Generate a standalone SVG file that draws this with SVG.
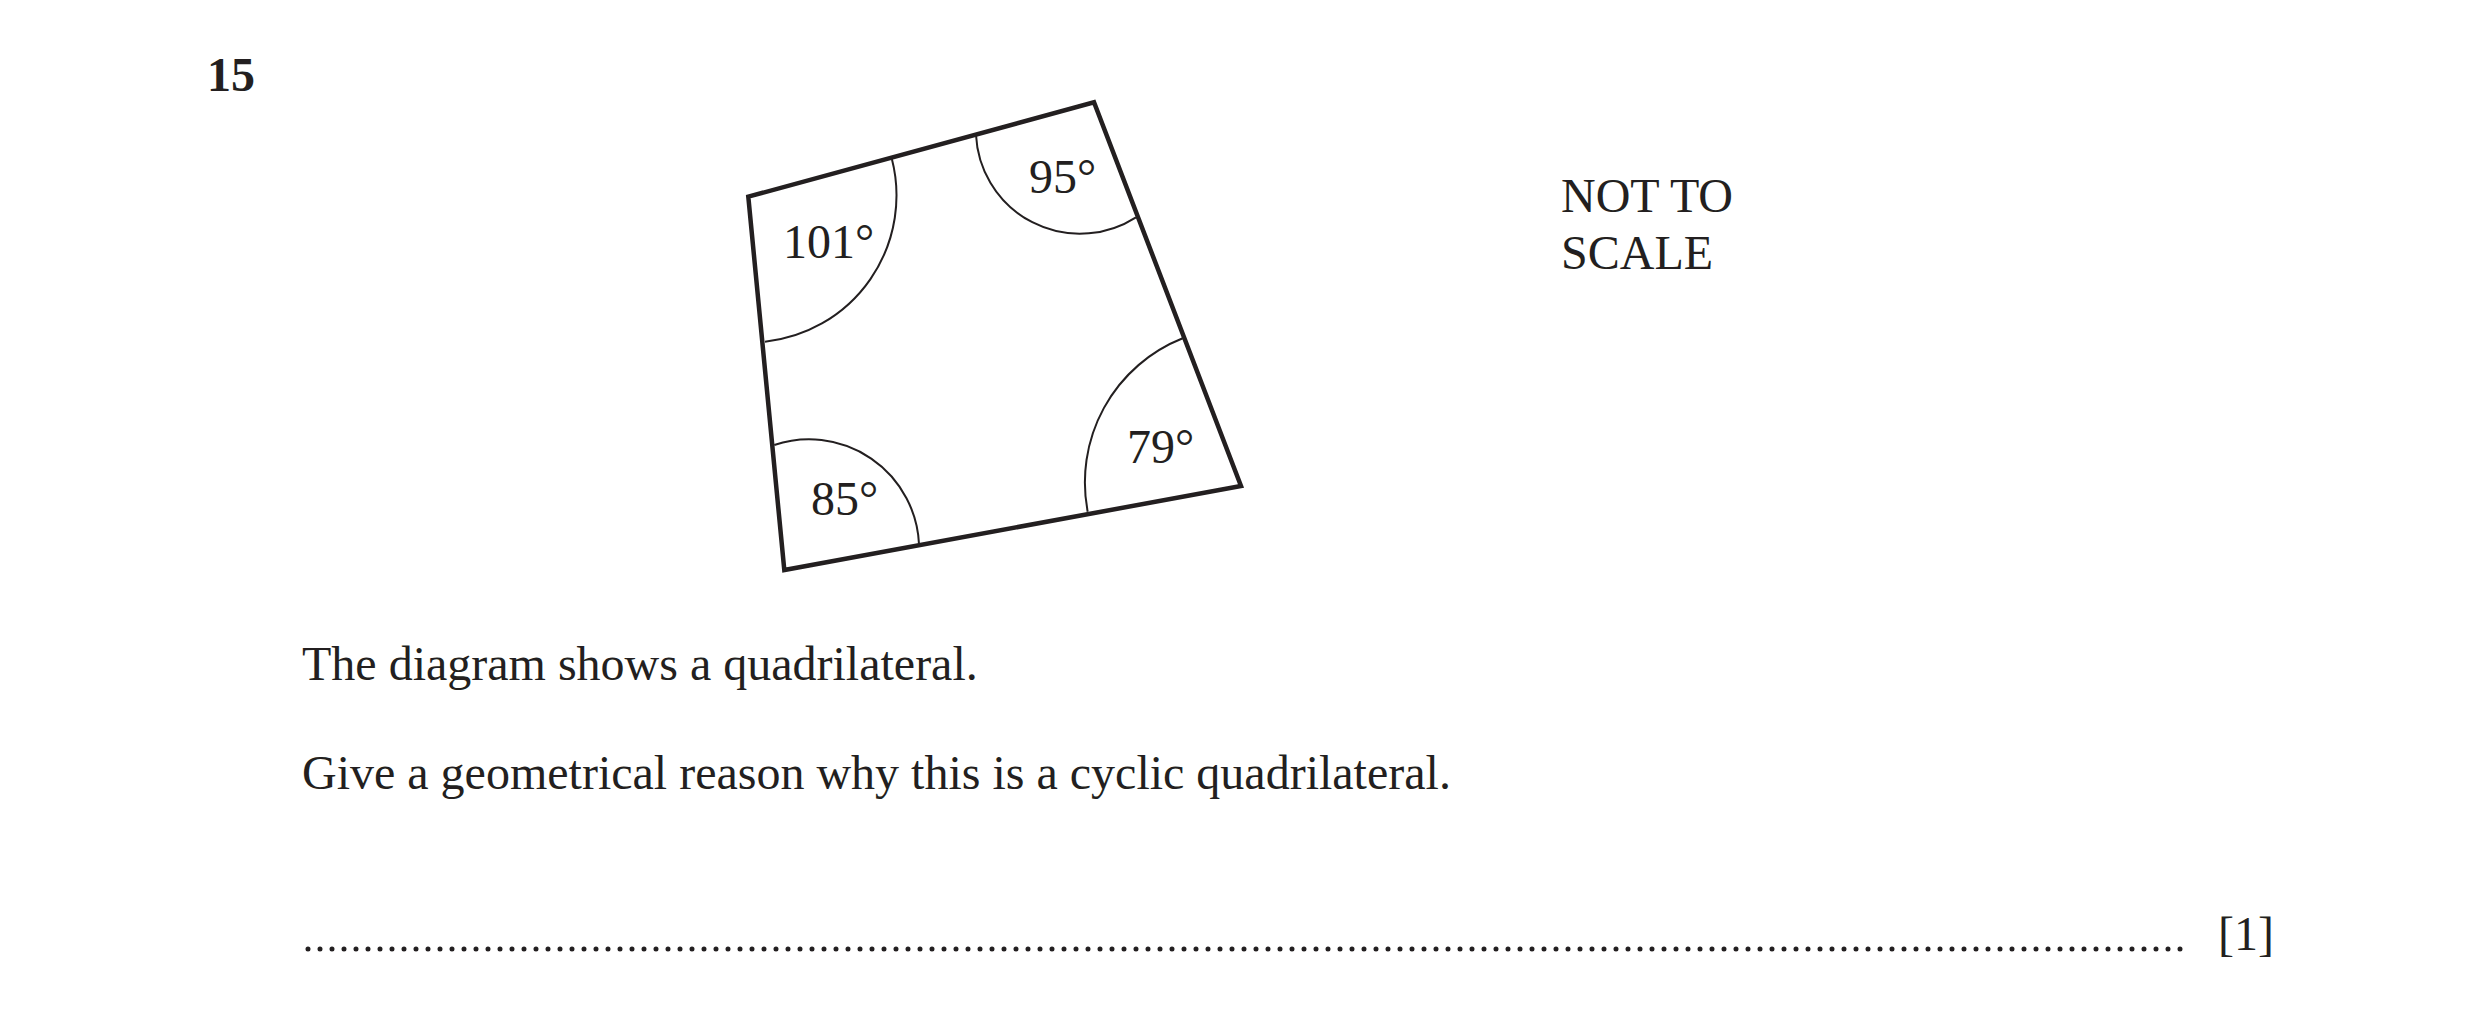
<svg xmlns="http://www.w3.org/2000/svg" width="2481" height="1016" viewBox="0 0 2481 1016">
<style>
text { font-family: "Liberation Serif", "Times New Roman", serif; font-size: 48px; fill: #231f20; }
.bold { font-weight: bold; }
.edge { fill: none; stroke: #231f20; stroke-width: 4.5; stroke-linejoin: miter; }
.arc { fill: none; stroke: #231f20; stroke-width: 2; }
</style>
<rect width="2481" height="1016" fill="#ffffff"/>
<text id="qnum" class="bold" x="207" y="91">15</text>
<g id="quadrilateral">
<polygon class="edge" points="748.3,196.7 1094,102.3 1241,486 784.3,570"/>
</g>
<g id="angles">
<g id="angle-101">
<path class="arc" d="M891.7,158.3 A147,147 0 0 1 765,341.7"/>
<text x="783" y="258">101°</text>
</g>
<g id="angle-95">
<path class="arc" d="M1136,217.3 A104,104 0 0 1 976,135"/>
<text x="1029" y="193">95°</text>
</g>
<g id="angle-79">
<path class="arc" d="M1087.7,511.7 A155,155 0 0 1 1182.7,338.3"/>
<text x="1127" y="463">79°</text>
</g>
<g id="angle-85">
<path class="arc" d="M774.3,445 A110,110 0 0 1 919,544"/>
<text x="811" y="515">85°</text>
</g>
</g>
<g id="note">
<text x="1561" y="212">NOT TO</text>
<text x="1561" y="269">SCALE</text>
</g>
<g id="question">
<text x="302" y="680">The diagram shows a quadrilateral.</text>
<text x="302" y="789">Give a geometrical reason why this is a cyclic quadrilateral.</text>
</g>
<g id="answer">
<line x1="308" y1="949" x2="2184" y2="949" stroke="#231f20" stroke-width="5" stroke-linecap="round" stroke-dasharray="0 12"/>
<text x="2218" y="950">[1]</text>
</g>
</svg>
